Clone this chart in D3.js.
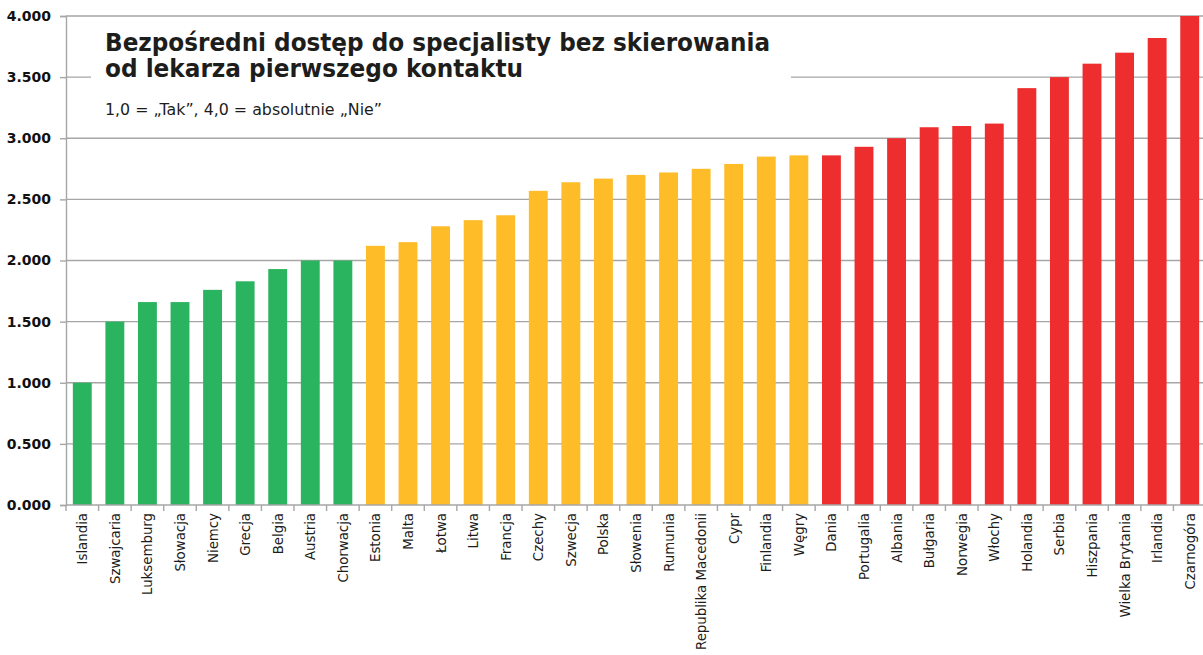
<!DOCTYPE html>
<html>
<head>
<meta charset="utf-8">
<script src="https://cdn.jsdelivr.net/npm/d3@7"></script>
<style>
  html, body { margin: 0; padding: 0; background: #fff; }
  svg { display: block; }
</style>
</head>
<body>
<svg id="chart" width="1203" height="655"></svg>
<script>
// Countries ordered from "Tak" (1.0) to absolute "Nie" (4.0)
const countries = [
  "Islandia", "Szwajcaria", "Luksemburg", "Słowacja", "Niemcy", "Grecja", "Belgia", "Austria", "Chorwacja",
  "Estonia", "Malta", "Łotwa", "Litwa", "Francja", "Czechy", "Szwecja", "Polska", "Słowenia", "Rumunia",
  "Republika Macedonii", "Cypr", "Finlandia", "Węgry",
  "Dania", "Portugalia", "Albania", "Bułgaria", "Norwegia", "Włochy", "Holandia", "Serbia", "Hiszpania",
  "Wielka Brytania", "Irlandia", "Czarnogóra"
];
const scores = [
  1.00, 1.50, 1.66, 1.66, 1.76, 1.83, 1.93, 2.00, 2.00,
  2.12, 2.15, 2.28, 2.33, 2.37, 2.57, 2.64, 2.67, 2.70, 2.72,
  2.75, 2.79, 2.85, 2.86,
  2.86, 2.93, 3.00, 3.09, 3.10, 3.12, 3.41, 3.50, 3.61,
  3.70, 3.82, 4.00
];
// Rating group of each country: 0 = green, 1 = yellow, 2 = red
const groups = [
  0, 0, 0, 0, 0, 0, 0, 0, 0,
  1, 1, 1, 1, 1, 1, 1, 1, 1, 1, 1, 1, 1, 1,
  2, 2, 2, 2, 2, 2, 2, 2, 2, 2, 2, 2
];
const groupColors = ["#2bb45f", "#fdbc28", "#ee2e2e"];
const yTicks = [0, 0.5, 1, 1.5, 2, 2.5, 3, 3.5, 4];

const titleLines = ["Bezpośredni dostęp do specjalisty bez skierowania", "od lekarza pierwszego kontaktu"];
const subtitle = "1,0 = „Tak”, 4,0 = absolutnie „Nie”";

const svg = d3.select("#chart");
const plotLeft = 66, plotRight = 1206, plotTop = 16, plotBottom = 505;

const x = d3.scaleBand().domain(countries).range([plotLeft, plotRight]).paddingInner(0.42).paddingOuter(0.21);
const y = d3.scaleLinear().domain([0, 4]).range([plotBottom, plotTop]);
const fmt = v => d3.format(".3f")(v);

// horizontal gridlines
svg.append("g").selectAll("line").data(yTicks.filter(t => t > 0)).join("line")
  .attr("x1", plotLeft).attr("x2", 1203)
  .attr("y1", d => y(d)).attr("y2", d => y(d))
  .attr("stroke", "#a6a6a6").attr("stroke-width", 1.4);

// y axis
const yAxis = svg.append("g").attr("transform", `translate(${plotLeft},0)`)
  .call(d3.axisLeft(y).tickValues(yTicks).tickFormat(fmt).tickSize(6).tickPadding(9));
yAxis.select(".domain").attr("stroke", "#a6a6a6").attr("stroke-width", 1.4);
yAxis.selectAll(".tick line").attr("stroke", "#a6a6a6").attr("stroke-width", 1.4);
yAxis.selectAll(".tick text")
  .attr("font-family", "DejaVu Sans, Verdana, sans-serif")
  .attr("font-weight", "bold").attr("font-size", 14).attr("fill", "#111");

// title panel sits over the top gridlines
svg.append("rect").attr("x", 91).attr("y", 20).attr("width", 700).attr("height", 108).attr("fill", "#fff");

const titleWidths = [665, 418];
svg.append("g").selectAll("text").data(titleLines).join("text")
  .attr("x", 105).attr("y", (d, i) => 51 + i * 26)
  .attr("font-family", "DejaVu Sans, Verdana, sans-serif")
  .attr("font-weight", "bold").attr("font-size", 24.5).attr("fill", "#1d1d1b")
  .attr("textLength", (d, i) => titleWidths[i]).attr("lengthAdjust", "spacingAndGlyphs")
  .text(d => d);

svg.append("text").attr("x", 105).attr("y", 115)
  .attr("font-family", "DejaVu Sans, Verdana, sans-serif")
  .attr("font-size", 15.5).attr("fill", "#1d1d1b")
  .attr("textLength", 277).attr("lengthAdjust", "spacingAndGlyphs")
  .text(subtitle);

// bars
svg.append("g").selectAll("rect").data(countries).join("rect")
  .attr("x", d => x(d))
  .attr("y", (d, i) => y(scores[i]))
  .attr("width", x.bandwidth())
  .attr("height", (d, i) => y(0) - y(scores[i]))
  .attr("fill", (d, i) => groupColors[groups[i]]);

// x axis with ticks on band boundaries
const xg = svg.append("g").attr("transform", `translate(0,${plotBottom})`);
xg.append("line").attr("x1", plotLeft).attr("x2", 1203).attr("y1", 0).attr("y2", 0)
  .attr("stroke", "#a6a6a6").attr("stroke-width", 1.4);
const step = x.step();
const edges = d3.range(countries.length + 1).map(i => plotLeft + i * step);
xg.selectAll("line.edge").data(edges).join("line").attr("class", "edge")
  .attr("x1", d => d).attr("x2", d => d).attr("y1", 0).attr("y2", 6)
  .attr("stroke", "#a6a6a6").attr("stroke-width", 1.4);
xg.selectAll("text").data(countries).join("text")
  .attr("transform", d => `translate(${x(d) + x.bandwidth() / 2 + 5},8) rotate(-90)`)
  .attr("text-anchor", "end")
  .attr("font-family", "DejaVu Sans Condensed, DejaVu Sans, sans-serif")
  .attr("font-size", 14.8).attr("fill", "#1d1d1b")
  .text(d => d);
</script>
</body>
</html>
